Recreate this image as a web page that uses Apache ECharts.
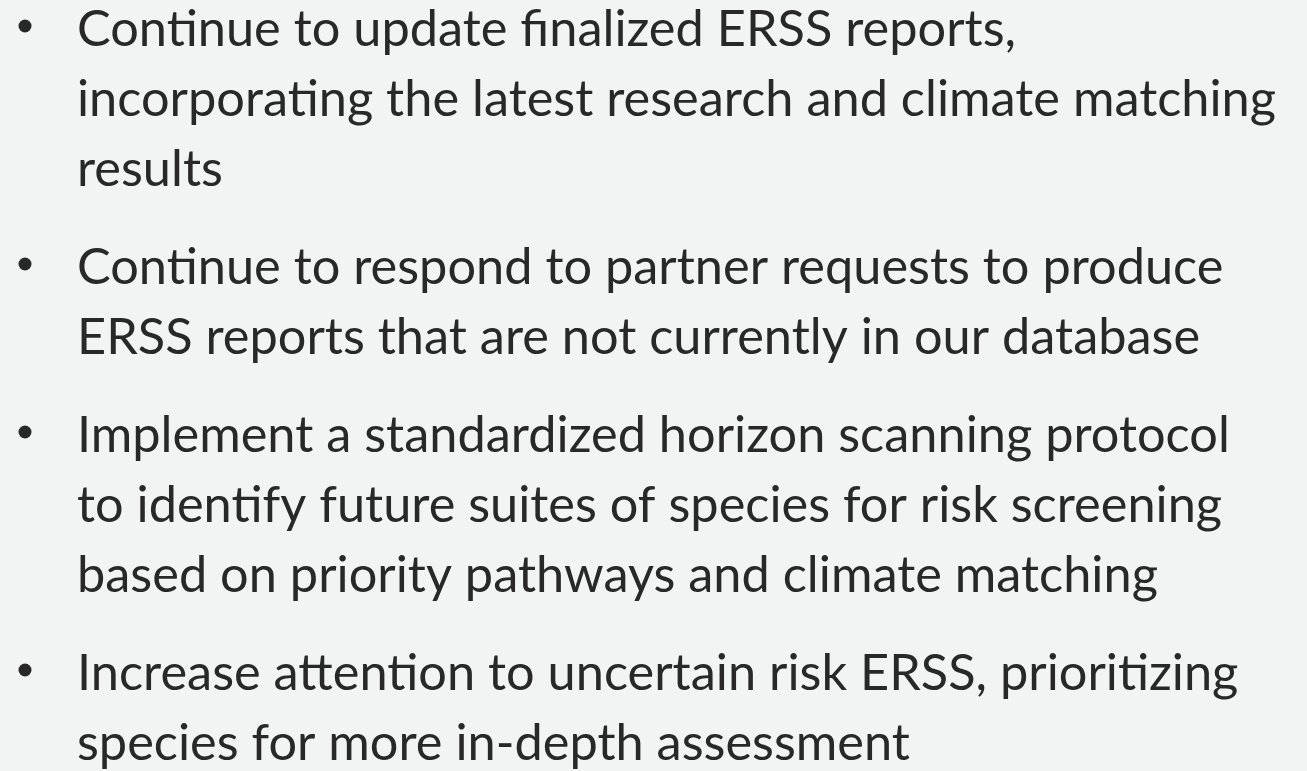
<!DOCTYPE html>
<html>
<head>
<meta charset="utf-8">
<script src="https://cdn.jsdelivr.net/npm/echarts@6/dist/echarts.min.js"></script>
<style>
  html, body { margin: 0; padding: 0; background: #f2f3f3; }
  #slide { width: 1307px; height: 771px; }
</style>
</head>
<body>
<div id="slide"></div>
<script>
// bullet texts, one array per bullet, already wrapped like the slide
var bullet1 = [
  "Continue to update finalized ERSS reports,",
  "incorporating the latest research and climate matching",
  "results"
];
var bullet2 = [
  "Continue to respond to partner requests to produce",
  "ERSS reports that are not currently in our database"
];
var bullet3 = [
  "Implement a standardized horizon scanning protocol",
  "to identify future suites of species for risk screening",
  "based on priority pathways and climate matching"
];
var bullet4 = [
  "Increase attention to uncertain risk ERSS, prioritizing",
  "species for more in-depth assessment"
];
var bullets = [bullet1, bullet2, bullet3, bullet4];

// layout
var fontSize = 50;
var fontFamily = "Lato, 'Open Sans', sans-serif";
var textColor = "#282828";
var textLeft = 77;
var bulletX = 25;
var firstBaseline = 45;
var lineGap = 70;
var paraGap = 98;
var longestTarget = 1199; // px width of the longest line on the slide

// squeeze the font a little to match the narrow original typeface
var ctx = document.createElement("canvas").getContext("2d");
ctx.font = fontSize + "px " + fontFamily;
var maxW = 0;
bullets.forEach(function (b) {
  b.forEach(function (l) {
    maxW = Math.max(maxW, ctx.measureText(l).width);
  });
});
var sx = longestTarget / maxW;

var elements = [];
var baseline = firstBaseline;
bullets.forEach(function (lines, bi) {
  if (bi > 0) baseline += paraGap - lineGap;
  elements.push({
    type: "circle",
    shape: { cx: bulletX, cy: baseline - 19, r: 6.5 },
    style: { fill: textColor }
  });
  lines.forEach(function (line) {
    elements.push({
      type: "text",
      x: textLeft,
      y: baseline - 0.3 * fontSize,
      scaleX: sx,
      style: {
        text: line,
        x: 0,
        y: 0,
        font: fontSize + "px " + fontFamily,
        fill: textColor,
        align: "left",
        verticalAlign: "middle"
      }
    });
    baseline += lineGap;
  });
});

var myChart = echarts.init(document.getElementById("slide"));
var option = {
  backgroundColor: "#f2f3f3",
  animation: false,
  graphic: { elements: elements }
};
option && myChart.setOption(option);
</script>
</body>
</html>
